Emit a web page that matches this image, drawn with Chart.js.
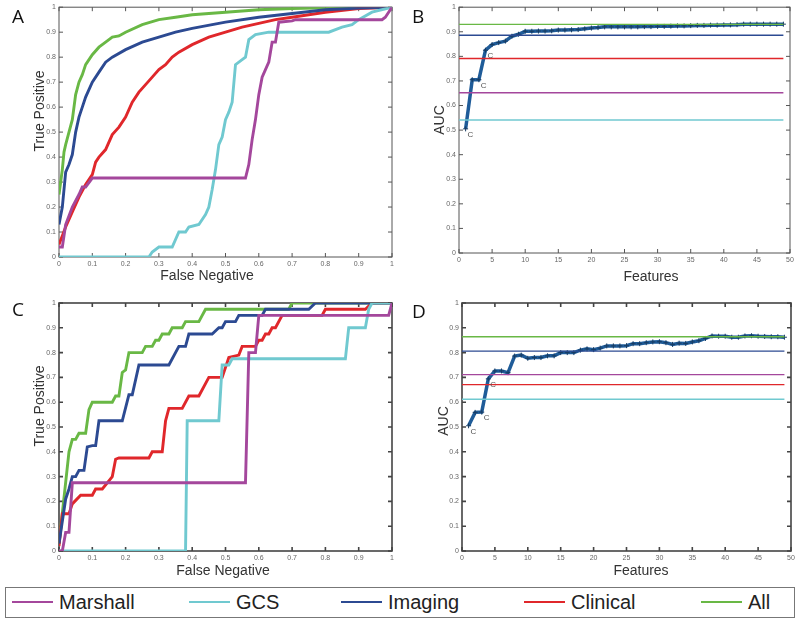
<!DOCTYPE html>
<html>
<head>
<meta charset="utf-8">
<script src="https://cdn.jsdelivr.net/npm/chart.js@4.4.0/dist/chart.umd.min.js"></script>
<style>
  body { margin: 0; width: 800px; height: 623px; background: #fff; position: relative; overflow: hidden; font-family: "Liberation Sans", Arial, sans-serif; }
  canvas { position: absolute; }
  .letter { position: absolute; font-family: "Open Sans", sans-serif; font-size: 19px; line-height: 1; color: #111; }
  .atitle { position: absolute; font-size: 14px; line-height: 1; color: #333; white-space: nowrap; transform: translate(-50%, -50%); }
  .atitle.v { transform: translate(-50%, -50%) rotate(-90deg); }
  #legend { position: absolute; left: 5px; top: 587px; width: 790px; height: 31px; border: 1.5px solid #777; box-sizing: border-box; }
  #legend .item { position: absolute; top: 0; height: 28px; display: flex; align-items: center; font-size: 20px; color: #222; }
  #legend .swatch { width: 41px; height: 2.5px; margin-right: 6px; }
</style>
</head>
<body>
<canvas id="chartA" width="400" height="290" style="left:0;top:0"></canvas>
<canvas id="chartB" width="400" height="290" style="left:400px;top:0"></canvas>
<canvas id="chartC" width="400" height="295" style="left:0;top:290px"></canvas>
<canvas id="chartD" width="400" height="295" style="left:400px;top:290px"></canvas>
<div class="letter" style="left:12px;top:7px">A</div>
<div class="letter" style="left:412px;top:7px">B</div>
<div class="letter" style="left:12px;top:300px">C</div>
<div class="letter" style="left:412px;top:302px">D</div>
<div class="atitle v" style="left:39px;top:111px">True Positive</div>
<div class="atitle" style="left:207px;top:275px">False Negative</div>
<div class="atitle v" style="left:439px;top:120px">AUC</div>
<div class="atitle" style="left:651px;top:276px">Features</div>
<div class="atitle v" style="left:39px;top:406px">True Positive</div>
<div class="atitle" style="left:223px;top:570px">False Negative</div>
<div class="atitle v" style="left:443px;top:421px">AUC</div>
<div class="atitle" style="left:641px;top:570px">Features</div>
<div id="legend"></div>
<script>
const seriesNames = ['Marshall', 'GCS', 'Imaging', 'Clinical', 'All'];
const seriesColors = ['#a4479c', '#70c9d0', '#2c4a92', '#e0272b', '#69b845'];

// Panel A - ROC curves, [false negative, true positive]
const rocA_marshall = [[0,0.04],[0.01,0.04],[0.02,0.13],[0.04,0.2],[0.06,0.25],[0.07,0.28],[0.08,0.28],[0.1,0.316],[0.56,0.316],[0.57,0.37],[0.58,0.47],[0.59,0.55],[0.6,0.65],[0.61,0.72],[0.62,0.75],[0.63,0.78],[0.64,0.86],[0.65,0.86],[0.66,0.94],[0.7,0.945],[0.71,0.95],[0.97,0.95],[0.98,0.96],[1,1]];
const rocA_gcs = [[0,0],[0.27,0],[0.28,0.02],[0.3,0.04],[0.34,0.04],[0.36,0.1],[0.38,0.1],[0.39,0.12],[0.42,0.13],[0.44,0.17],[0.45,0.2],[0.46,0.27],[0.47,0.35],[0.48,0.45],[0.49,0.48],[0.5,0.55],[0.51,0.58],[0.52,0.62],[0.53,0.77],[0.55,0.79],[0.56,0.8],[0.57,0.87],[0.59,0.89],[0.63,0.9],[0.81,0.9],[0.85,0.92],[0.88,0.93],[0.9,0.95],[0.94,0.98],[1,1]];
const rocA_imaging = [[0,0.13],[0.01,0.2],[0.02,0.34],[0.03,0.37],[0.04,0.41],[0.05,0.5],[0.06,0.56],[0.07,0.6],[0.08,0.64],[0.1,0.7],[0.12,0.74],[0.14,0.78],[0.16,0.8],[0.2,0.83],[0.25,0.86],[0.3,0.88],[0.35,0.9],[0.4,0.915],[0.5,0.94],[0.6,0.96],[0.7,0.975],[0.8,0.99],[0.9,0.997],[1,1]];
const rocA_clinical = [[0,0.05],[0.02,0.12],[0.04,0.18],[0.06,0.24],[0.08,0.29],[0.1,0.33],[0.11,0.38],[0.12,0.4],[0.14,0.43],[0.16,0.49],[0.18,0.52],[0.2,0.56],[0.22,0.62],[0.24,0.66],[0.26,0.69],[0.28,0.72],[0.3,0.75],[0.32,0.77],[0.34,0.8],[0.36,0.82],[0.4,0.85],[0.45,0.88],[0.5,0.9],[0.55,0.92],[0.6,0.935],[0.65,0.95],[0.7,0.96],[0.8,0.98],[0.9,0.995],[1,1]];
const rocA_all = [[0,0.25],[0.005,0.3],[0.01,0.35],[0.015,0.42],[0.02,0.45],[0.03,0.5],[0.04,0.55],[0.05,0.65],[0.06,0.7],[0.07,0.73],[0.08,0.77],[0.1,0.81],[0.12,0.84],[0.14,0.86],[0.16,0.88],[0.18,0.885],[0.2,0.9],[0.25,0.93],[0.3,0.95],[0.35,0.96],[0.4,0.97],[0.5,0.98],[0.6,0.99],[0.7,0.995],[0.8,0.998],[1,1]];

// Panel C - ROC curves
const rocC_marshall = [[0,0],[0.01,0],[0.02,0.075],[0.03,0.075],[0.04,0.275],[0.56,0.275],[0.57,0.8],[0.59,0.8],[0.6,0.95],[0.99,0.95],[1,1]];
const rocC_gcs = [[0,0],[0.38,0],[0.385,0.525],[0.48,0.525],[0.49,0.75],[0.51,0.75],[0.52,0.775],[0.86,0.775],[0.87,0.9],[0.92,0.9],[0.93,0.975],[0.94,1],[1,1]];
const rocC_imaging = [[0,0.03],[0.02,0.21],[0.03,0.25],[0.04,0.3],[0.05,0.3],[0.06,0.325],[0.075,0.325],[0.085,0.42],[0.1,0.425],[0.11,0.425],[0.12,0.525],[0.19,0.525],[0.21,0.63],[0.22,0.63],[0.24,0.75],[0.33,0.75],[0.36,0.825],[0.38,0.825],[0.39,0.875],[0.46,0.875],[0.48,0.9],[0.49,0.9],[0.5,0.925],[0.53,0.925],[0.54,0.95],[0.61,0.95],[0.62,0.975],[0.75,0.975],[0.77,1],[1,1]];
const rocC_clinical = [[0,0.02],[0.01,0.15],[0.03,0.15],[0.04,0.19],[0.065,0.225],[0.1,0.225],[0.11,0.25],[0.13,0.25],[0.145,0.275],[0.16,0.3],[0.17,0.37],[0.18,0.375],[0.27,0.375],[0.28,0.4],[0.31,0.4],[0.32,0.525],[0.33,0.575],[0.37,0.575],[0.39,0.625],[0.42,0.625],[0.45,0.7],[0.49,0.7],[0.51,0.78],[0.54,0.79],[0.55,0.825],[0.59,0.825],[0.6,0.85],[0.61,0.85],[0.62,0.875],[0.63,0.875],[0.64,0.9],[0.65,0.9],[0.67,0.95],[0.79,0.95],[0.8,0.975],[0.92,0.975],[0.94,1],[1,1]];
const rocC_all = [[0,0.03],[0.03,0.4],[0.04,0.45],[0.05,0.45],[0.06,0.475],[0.08,0.475],[0.09,0.57],[0.1,0.6],[0.16,0.6],[0.17,0.625],[0.18,0.625],[0.19,0.72],[0.2,0.73],[0.21,0.8],[0.25,0.8],[0.26,0.825],[0.28,0.825],[0.29,0.85],[0.3,0.85],[0.31,0.875],[0.33,0.875],[0.34,0.9],[0.37,0.9],[0.38,0.925],[0.42,0.925],[0.44,0.975],[0.69,0.975],[0.7,1],[0.94,1],[1,1]];

// Panels B and D - AUC versus number of features
const features = [1,2,3,4,5,6,7,8,9,10,11,12,13,14,15,16,17,18,19,20,21,22,23,24,25,26,27,28,29,30,31,32,33,34,35,36,37,38,39,40,41,42,43,44,45,46,47,48,49];
const aucB = [0.505,0.705,0.705,0.825,0.848,0.856,0.862,0.882,0.890,0.902,0.902,0.903,0.903,0.904,0.907,0.907,0.908,0.909,0.912,0.915,0.917,0.920,0.920,0.920,0.920,0.920,0.920,0.921,0.921,0.922,0.922,0.923,0.924,0.924,0.925,0.926,0.926,0.927,0.927,0.928,0.928,0.929,0.931,0.931,0.931,0.931,0.931,0.931,0.931];
const aucD = [0.505,0.559,0.560,0.694,0.726,0.726,0.719,0.786,0.790,0.777,0.780,0.780,0.787,0.787,0.800,0.800,0.800,0.810,0.815,0.812,0.818,0.827,0.827,0.827,0.828,0.836,0.836,0.840,0.843,0.844,0.840,0.833,0.838,0.837,0.843,0.848,0.857,0.867,0.866,0.866,0.862,0.862,0.867,0.868,0.866,0.865,0.864,0.864,0.862];
const baselineB = [0.652, 0.541, 0.886, 0.791, 0.930];
const baselineD = [0.711, 0.612, 0.806, 0.671, 0.864];
const cLabelFeatures = [1, 3, 4];

const rocA = [rocA_marshall, rocA_gcs, rocA_imaging, rocA_clinical, rocA_all];
const rocC = [rocC_marshall, rocC_gcs, rocC_imaging, rocC_clinical, rocC_all];

// box with inward ticks, MATLAB style
const framePlugin = {
    id: 'frame',
    beforeDatasetsDraw(chart, args, opts) {
        const { ctx, chartArea: a, scales: { x, y } } = chart;
        ctx.save();
        ctx.strokeStyle = opts.color;
        ctx.lineWidth = opts.width;
        ctx.strokeRect(a.left, a.top, a.right - a.left, a.bottom - a.top);
        ctx.beginPath();
        x.ticks.forEach(tk => {
            const px = x.getPixelForValue(tk.value);
            ctx.moveTo(px, a.bottom); ctx.lineTo(px, a.bottom - 4);
            ctx.moveTo(px, a.top); ctx.lineTo(px, a.top + 4);
        });
        y.ticks.forEach(tk => {
            const py = y.getPixelForValue(tk.value);
            ctx.moveTo(a.left, py); ctx.lineTo(a.left + 4, py);
            ctx.moveTo(a.right, py); ctx.lineTo(a.right - 4, py);
        });
        ctx.stroke();
        ctx.restore();
    },
    afterDatasetsDraw(chart, args, opts) {
        if (!opts.labels) return;
        const { ctx } = chart;
        const meta = chart.getDatasetMeta(chart.data.datasets.length - 1);
        ctx.save();
        ctx.fillStyle = '#555';
        ctx.font = '8px "Liberation Sans"';
        opts.labels.forEach(f => {
            const pt = meta.data[features.indexOf(f)];
            ctx.fillText('C', pt.x + 2, pt.y + 8);
        });
        ctx.restore();
    }
};

function axis(min, max, step, size) {
    return {
        type: 'linear', min: min, max: max,
        ticks: { stepSize: step, font: { size: 7 }, color: '#666', padding: 3,
                 callback: v => Math.round(v * 100) / 100 },
        grid: { display: false, drawTicks: false },
        border: { display: false },
        afterFit: s => { if (s.isHorizontal()) s.height = size; else s.width = size; }
    };
}

function makeChart(id, datasets, xOpt, yOpt, pad, frame) {
    return new Chart(document.getElementById(id), {
        type: 'line',
        data: { datasets: datasets },
        options: {
            responsive: false,
            animation: false,
            devicePixelRatio: 1,
            layout: { padding: pad },
            parsing: false,
            scales: { x: xOpt, y: yOpt },
            plugins: { legend: { display: false }, tooltip: { enabled: false }, frame: frame }
        },
        plugins: [framePlugin]
    });
}

function rocSets(curves) {
    return curves.map((c, i) => ({
        label: seriesNames[i],
        data: c.map(p => ({ x: p[0], y: p[1] })),
        borderColor: seriesColors[i],
        borderWidth: 2.9,
        pointRadius: 0,
        tension: 0
    }));
}

function aucSets(levels, auc) {
    const sets = levels.map((v, i) => ({
        label: seriesNames[i],
        data: [{ x: 0, y: v }, { x: 49, y: v }],
        borderColor: seriesColors[i],
        borderWidth: 1.4,
        pointRadius: 0
    }));
    sets.push({
        label: 'AUC',
        data: features.map((f, i) => ({ x: f, y: auc[i] })),
        borderColor: '#1f5c99',
        borderWidth: 3.5,
        pointStyle: 'cross',
        pointRadius: 2.5,
        pointBorderWidth: 1,
        pointBorderColor: '#183c62',
        tension: 0
    });
    return sets;
}

makeChart('chartA', rocSets(rocA), axis(0, 1, 0.1, 33), axis(0, 1, 0.1, 59),
    { left: 0, top: 7, right: 8, bottom: 0 }, { color: '#555', width: 1 });

makeChart('chartB', aucSets(baselineB, aucB), axis(0, 50, 5, 37), axis(0, 1, 0.1, 59),
    { left: 0, top: 7, right: 10, bottom: 0 }, { color: '#555', width: 1, labels: cLabelFeatures });

makeChart('chartC', rocSets(rocC), axis(0, 1, 0.1, 34), axis(0, 1, 0.1, 59),
    { left: 0, top: 13, right: 8, bottom: 0 }, { color: '#444', width: 1.6 });

makeChart('chartD', aucSets(baselineD, aucD), axis(0, 50, 5, 34), axis(0, 1, 0.1, 62),
    { left: 0, top: 13, right: 9, bottom: 0 }, { color: '#444', width: 1.6, labels: cLabelFeatures });

// legend
const legendLeft = [6, 183, 335, 518, 695];
const legend = document.getElementById('legend');
seriesNames.forEach((name, i) => {
    const item = document.createElement('div');
    item.className = 'item';
    item.style.left = legendLeft[i] + 'px';
    const sw = document.createElement('span');
    sw.className = 'swatch';
    sw.style.background = seriesColors[i];
    item.appendChild(sw);
    item.appendChild(document.createTextNode(name));
    legend.appendChild(item);
});
</script>
</body>
</html>
